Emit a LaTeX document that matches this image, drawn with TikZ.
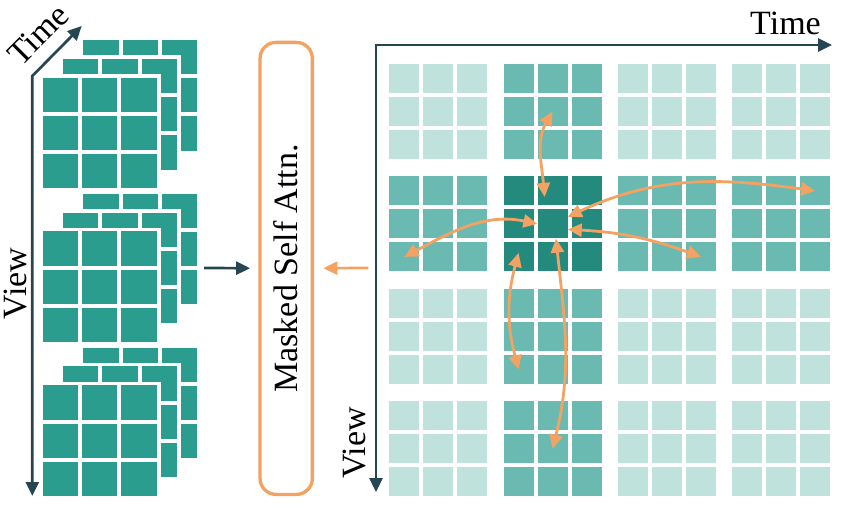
\documentclass[tikz,border=0pt]{standalone}
\usepackage{fontspec}
\setmainfont{Liberation Serif}
\usepackage{tikz}
\usetikzlibrary{calc,arrows.meta,positioning}
\definecolor{axisblue}{HTML}{264653}
\definecolor{tealc}{HTML}{2A9D8F}
\definecolor{sand}{HTML}{F4A261}
\colorlet{cell0}{tealc!30}
\colorlet{cell1}{tealc!70}
\colorlet{cell2}{tealc!88!black}

\begin{document}
\begin{tikzpicture}[x=1pt,y=1pt,font=\fontsize{34}{40}\selectfont,
	axisline/.style={axisblue, line width=2.7pt, line join=miter,
		{Triangle[length=14pt,width=13pt]}-{Triangle[length=14pt,width=13pt]}},
	stackcell/.style={fill=tealc, draw=white, line width=3.8pt},
	cell/.style={fill=cell0, inner sep=0pt, minimum width=30pt, minimum height=29pt},
	attnbox/.style={draw=sand, line width=3.3pt, rounded corners=16pt, inner sep=0pt},
	attnarrow/.style={sand, line width=2.8pt,
		{Triangle[length=14pt,width=13pt]}-{Triangle[length=14pt,width=13pt]}},
	flowarrow/.style={line width=2.7pt, -{Triangle[length=14pt,width=13pt]}}]
	\useasboundingbox (0,0) rectangle (846,-508);
	
	%left: stacked frames, view x time
	\foreach \g in {0,1,2}
	\foreach \l in {2,1,0}{
		\begin{scope}[shift={({40.7+20.3*\l},{-75.7-153.85*\g+18.9*\l})}]
		\foreach \r in {0,1,2}
		\foreach \c in {0,1,2}
		\filldraw[stackcell] ({39.3*\c},{-38.2*\r}) rectangle ++(39.3,-38.2);
		\end{scope}
	}
	\coordinate (leftorig) at (32.3,-76);
	\draw[axisline] (81.7,-26) -- (leftorig) -- (32.3,-496);
	\node[rotate=45, anchor=base, inner sep=0pt] (timeL) at (46,-42.5) {Time};
	\node[rotate=90, anchor=base, inner sep=0pt] (viewL) at (27,-283.5) {View};
	
	%middle: attention block
	\node[attnbox, rotate=90, minimum width=452pt, minimum height=52.3pt] (attn) at (286.2,-268.4) {Masked Self Attn.};
	\coordinate (stackout) at (204,-268);
	\coordinate (gridout) at (368.3,-268);
	\draw[flowarrow, axisblue, shorten >=8.3pt] (stackout) -- (attn);
	\draw[flowarrow, sand, shorten >=9.4pt] (gridout) -- (attn);
	
	%right: token grid, 4 views x 4 times
	\begin{scope}[shift={(389.3,-64)}]
	\foreach \R in {1,...,4}
	\foreach \C in {1,...,4}
	\foreach \r in {1,2,3}
	\foreach \c in {1,2,3}{
		\pgfmathtruncatemacro\lvl{(\R==2)+(\C==2)}
		\node[cell, fill=cell\lvl] (c-\R-\C-\r-\c) at ({(\C-1)*114.3+(\c-1)*34+15},{-(\R-1)*112.4-(\r-1)*33-14.5}) {};
	}
	\end{scope}
	\coordinate (gridorig) at (376,-45);
	\draw[axisline] (376,-492) -- (gridorig) -- (832,-45);
	\node[anchor=base, inner sep=0pt] (timeR) at (785.5,-35) {Time};
	\node[rotate=90, anchor=base, inner sep=0pt] (viewR) at (365,-443) {View};
	
	%attention from the query token
	\draw[attnarrow] ([shift={(-8,-6)}]c-2-2-1-2.center) to[out=95,in=240] (c-1-2-2-2.center);
	\draw[attnarrow] (c-2-2-2-2.west) to[out=168,in=28] (c-2-1-3-1.center);
	\draw[attnarrow] (c-2-2-2-2.25) to[out=25,in=172] (c-2-4-1-3.center);
	\draw[attnarrow] (c-2-2-2-2.-20) to[out=-3,in=160] (c-2-3-3-3.center);
	\draw[attnarrow] (c-2-2-2-2.-77) to[out=-84,in=76] (c-4-2-2-2.center);
	\draw[attnarrow] ([shift={(0,4)}]c-2-2-3-1.center) to[out=255,in=105] (c-3-2-3-1.center);
\end{tikzpicture}
\end{document}
